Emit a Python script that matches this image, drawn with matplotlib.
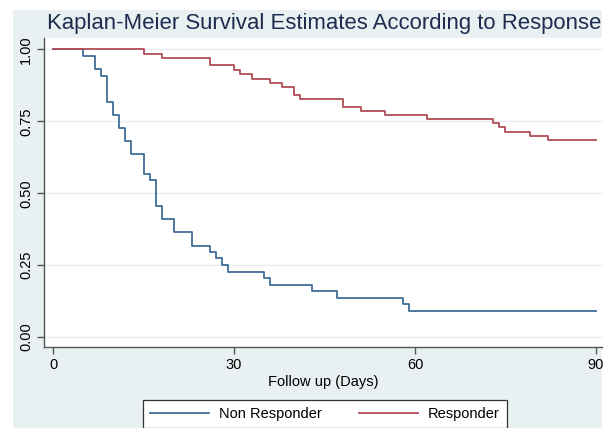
import matplotlib
matplotlib.use("Agg")
import matplotlib.pyplot as plt
from matplotlib.patches import Rectangle

# ── Kaplan-Meier step data ───────────────────────────────────────────────────
nonresp_days = [0, 5, 7, 8, 9, 10, 11, 12, 13, 15, 16, 17, 18, 20, 23, 26, 27,
                28, 29, 35, 36, 43, 47, 58, 59, 90]
nonresp_surv = [1.000, 0.977, 0.932, 0.909, 0.818, 0.773, 0.727, 0.682, 0.636,
                0.568, 0.545, 0.455, 0.409, 0.364, 0.318, 0.295, 0.273, 0.250,
                0.227, 0.205, 0.182, 0.159, 0.136, 0.114, 0.091, 0.091]

resp_days = [0, 15, 18, 26, 30, 31, 33, 36, 38, 40, 41, 48, 51, 55, 62, 73,
             74, 75, 79, 82, 90]
resp_surv = [1.000, 0.985, 0.970, 0.945, 0.930, 0.916, 0.899, 0.885, 0.870,
             0.841, 0.827, 0.800, 0.787, 0.772, 0.758, 0.743, 0.729, 0.714,
             0.700, 0.685, 0.685]

x_ticks = [0, 30, 60, 90]
y_ticks = [0.00, 0.25, 0.50, 0.75, 1.00]

C = {
    "bg":    "#E8F0F2",
    "blue":  "#3F6D96",
    "red":   "#B24C57",
    "title": "#1E2D4F",
    "axis":  "#555555",
    "grid":  "#E6EEF1",
}

plt.rcParams["font.family"] = ["Liberation Sans", "DejaVu Sans"]

W, H = 606, 428
fig = plt.figure(figsize=(W / 100, H / 100), dpi=100)
fig.patch.set_facecolor("white")
# tinted graph region (white margin at top, left and right as in the screenshot)
bg = Rectangle((13 / W, 0), (602 - 13) / W, (H - 10) / H,
               transform=fig.transFigure, facecolor=C["bg"],
               edgecolor="none", zorder=-10)
fig.add_artist(bg)

ax = fig.add_axes([44 / W, 81 / H, (602 - 44) / W, (347 - 38) / H])
ax.set_zorder(1)
ax.set_facecolor("white")

ax.step(nonresp_days, nonresp_surv, where="post", color=C["blue"], lw=1.3,
        label="Non Responder")
ax.step(resp_days, resp_surv, where="post", color=C["red"], lw=1.3,
        label="Responder")

ax.set_xlim(-1.5, 91.0)
ax.set_ylim(-0.035, 1.04)
ax.set_xticks(x_ticks)
ax.set_yticks(y_ticks)
ax.set_yticklabels([f"{v:.2f}" for v in y_ticks], rotation=90, va="center")
ax.tick_params(axis="both", labelsize=10.5, color=C["axis"], length=5,
               width=1, pad=3)
ax.grid(axis="y", color=C["grid"], lw=1)
ax.set_axisbelow(True)

for s in ["top", "right"]:
    ax.spines[s].set_visible(False)
for s in ["left", "bottom"]:
    ax.spines[s].set_color(C["axis"])
    ax.spines[s].set_linewidth(1)

ax.set_xlabel("Follow up (Days)", fontsize=10.5, labelpad=2)

fig.text(324 / W, 1 - 24 / H,
         "Kaplan-Meier Survival Estimates According to Response",
         ha="center", va="center", fontsize=15.9, color=C["title"], zorder=2)

leg = fig.legend(loc="upper center", bbox_to_anchor=(325 / W, 0.083), ncol=2,
                 fontsize=10.5, frameon=True, fancybox=False, handlelength=4.0,
                 handletextpad=0.7, columnspacing=2.6, borderpad=0.5)
leg.set_zorder(2)
leg.get_frame().set_edgecolor("#333333")
leg.get_frame().set_linewidth(0.9)
leg.get_frame().set_alpha(1)

fig.savefig("out.png", dpi=100, facecolor="white")
